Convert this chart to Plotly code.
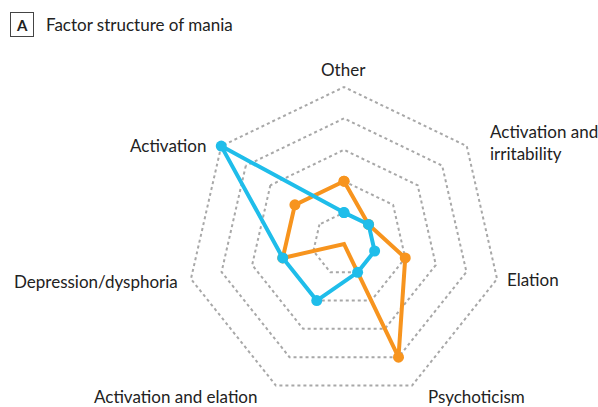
import plotly.graph_objects as go

categories = ["Other", "Activation and<br>irritability", "Elation", "Psychoticism",
              "Activation and elation", "Depression/dysphoria", "Activation"]
blue_values = [1, 1, 1, 1, 2, 2, 5]
orange_values = [2, 1, 2, 4, 0, 2, 2]
ring_ticks = [1, 2, 3, 4, 5]

BLUE = "#1FBDEA"
ORANGE = "#F7941E"
FONT = "Lato, Liberation Sans, Arial, sans-serif"
W, H = 598, 407

fig = go.Figure()
for vals, col in [(orange_values, ORANGE), (blue_values, BLUE)]:
    fig.add_trace(go.Scatterpolar(
        r=vals + vals[:1], theta=categories + categories[:1],
        mode="lines+markers",
        line=dict(color=col, width=4),
        marker=dict(color=col, size=11),
        showlegend=False, hoverinfo="skip", cliponaxis=False,
    ))

# category label placement (pixel anchor x, y from top-left, x-anchor, alignment)
label_layout = [
    (344, 70, "center", "center"),
    (488, 143, "left", "left"),
    (505, 279, "left", "left"),
    (426, 396, "left", "left"),
    (259, 396, "right", "right"),
    (180, 281, "right", "right"),
    (208, 145, "right", "right"),
]

annotations = [
    dict(text="<b>A</b>", x=22 / W, y=1 - 24.5 / H, xref="paper", yref="paper",
         xanchor="center", yanchor="middle", showarrow=False,
         font=dict(family=FONT, size=15, color="#222222"),
         bordercolor="#444444", borderwidth=1, borderpad=3, width=16, height=17),
    dict(text="Factor structure of mania", x=44 / W, y=1 - 24.5 / H,
         xref="paper", yref="paper", xanchor="left", yanchor="middle",
         showarrow=False, font=dict(family=FONT, size=17, color="#222222")),
]
for name, (px, py, xa, al) in zip(categories, label_layout):
    annotations.append(dict(text=name, x=px / W, y=1 - py / H, xref="paper", yref="paper",
                            xanchor=xa, yanchor="middle", align=al, showarrow=False,
                            font=dict(family=FONT, size=17, color="#222222")))

# r=5 ring at 157 px, center at (344, 244) px from top-left
rmax = 5.15
rad = 157 * rmax / 5
cx, cy = 344, 244
fig.update_layout(
    width=W, height=H,
    margin=dict(l=0, r=0, t=0, b=0),
    paper_bgcolor="white", plot_bgcolor="white",
    font=dict(family=FONT, size=17, color="#222222"),
    polar=dict(
        domain=dict(x=[(cx - rad) / W, (cx + rad) / W],
                    y=[(H - cy - rad) / H, (H - cy + rad) / H]),
        bgcolor="white",
        gridshape="linear",
        radialaxis=dict(range=[0, rmax], tickvals=ring_ticks, showticklabels=False,
                        ticks="", showline=False, griddash="dot",
                        gridcolor="#a8a8a8", gridwidth=1.5),
        angularaxis=dict(direction="clockwise", rotation=90, showgrid=False,
                         showline=False, ticks="", showticklabels=False),
    ),
    annotations=annotations,
)

fig.write_html("out.html", post_script="document.body.style.margin='0';",
               config={"displayModeBar": False})
